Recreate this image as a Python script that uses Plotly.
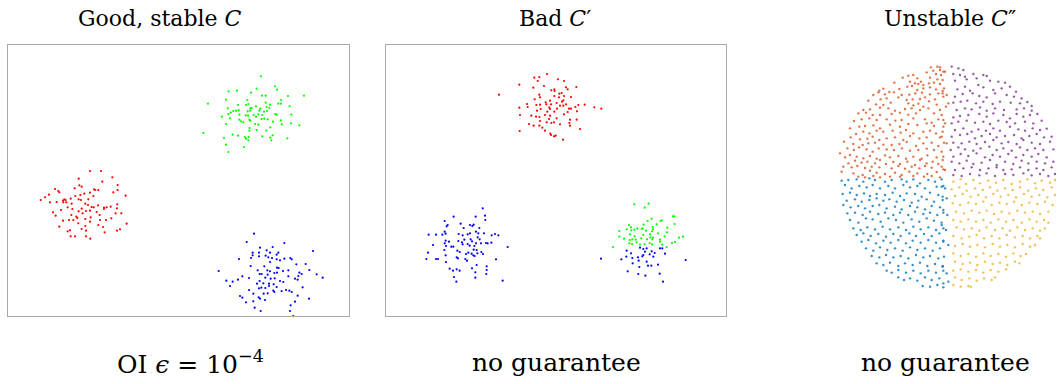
import plotly.graph_objects as go

# ---------------- panel 1: good, stable clustering (three well separated blobs)
p1_red_x = [246,279,212,313,283,329,214,221,200,329,141,151,154,258,262,271,316,229,246,353,123,111,217,202,256,188,169,173,165,212,219,241,98,126,146,166,175,191,270,232,240,328,251,257,308,288,288,296,327,179,193,221,159,212,234,246,135,224,266,323,340,190,143,205,208,248,275,232,310,276,294,183,165,196,246,356,211,271,154,232,285,221,336,186,179,327,234,290,188,201,234,247]
p1_red_y = [435,435,412,416,403,393,392,388,383,378,381,375,371,380,378,378,371,367,370,361,364,356,363,360,360,352,350,348,346,350,348,350,348,341,342,341,341,337,332,337,333,335,327,326,328,325,321,326,323,326,321,322,318,314,315,316,311,308,312,308,308,303,301,298,294,296,303,291,293,288,288,288,286,288,283,277,278,273,268,270,267,261,260,257,254,256,256,251,239,239,239,232]

p1_green_x = [759,801,807,746,662,687,729,888,840,762,773,654,819,600,718,773,811,819,786,744,776,690,714,721,845,659,727,731,757,784,676,684,692,668,661,719,726,754,768,777,802,806,850,694,713,720,737,751,763,642,666,694,699,724,727,744,761,769,779,795,819,706,654,741,751,821,849,874,725,787,724,746,775,586,794,674,690,711,714,722,763,787,648,721,838,790,654,708,661]
p1_green_y = [719,689,679,682,674,676,670,661,660,661,661,649,648,637,648,640,637,637,634,629,627,633,633,636,629,623,623,624,622,624,615,616,617,610,606,614,616,616,613,615,606,604,604,604,602,601,603,605,603,598,593,589,584,589,586,598,591,592,590,583,587,581,576,576,574,575,578,572,564,566,556,558,556,549,542,544,541,537,532,537,539,535,534,527,533,527,514,507,492]

p1_blue_x = [738,716,794,829,756,776,786,734,753,811,734,753,773,806,915,693,729,781,792,806,829,847,851,786,816,728,769,807,812,865,893,632,749,778,786,807,825,841,904,755,761,779,799,874,881,871,926,944,703,723,772,800,841,861,869,655,674,690,755,788,816,826,666,747,766,783,783,797,806,760,772,723,753,834,844,884,821,796,799,767,736,779,851,869,696,703,752,756,771,903,714,736,861,848,740,846,758,856]
p1_blue_y = [247,222,207,219,205,197,190,190,190,190,182,179,181,184,195,171,174,176,174,170,172,174,170,162,167,150,149,145,144,155,156,135,137,137,134,130,135,137,138,126,126,124,129,130,126,120,125,115,119,114,115,113,119,112,109,106,103,109,105,112,105,102,90,97,98,97,90,95,87,85,84,78,83,78,76,86,75,76,72,67,67,68,72,61,60,55,56,52,48,52,41,44,43,32,25,15,15,0]

# ---------------- panel 2: bad clustering (one blob split across two labels)
p2_red_x = [483,445,460,455,516,534,400,474,442,540,545,571,496,505,506,339,460,462,520,527,534,505,519,555,446,492,479,532,528,512,423,451,462,481,495,522,532,540,568,577,596,625,646,400,425,464,490,492,513,549,555,453,484,505,545,573,402,436,450,460,477,492,534,489,512,552,572,462,482,496,504,550,429,443,460,469,522,552,582,401,477,493,495,504,509,531]
p2_red_y = [726,715,717,705,710,705,694,690,685,686,680,687,677,680,675,664,664,656,667,669,660,660,656,657,650,646,641,647,643,639,636,633,634,635,635,631,631,635,627,633,634,626,622,625,627,621,625,621,622,622,622,616,613,613,612,614,603,601,598,597,603,601,605,591,593,589,589,585,581,579,581,579,576,571,571,565,575,571,561,555,556,547,543,539,541,529]

p2_blue_x = [290,297,203,269,298,176,185,182,224,252,259,263,233,280,128,150,169,179,176,218,230,245,252,270,277,294,317,327,337,179,189,217,228,235,254,258,275,281,285,305,300,316,141,176,180,196,230,245,251,270,265,365,175,202,214,221,247,263,272,274,286,126,240,257,262,266,291,179,212,216,150,156,121,238,243,330,180,272,302,191,201,212,221,258,268,302,301,204,268,211,350,
              762,772,782,777,797,822,829,722,735,791,806,802,837,645,706,721,739,756,769,772,899,758,782,740,786,796,816,760,725,757,778,821,831]
p2_blue_y = [323,301,298,298,288,285,273,269,277,273,270,274,264,264,244,244,244,247,253,246,242,245,248,253,248,248,242,246,242,226,223,225,221,229,230,224,236,230,218,218,219,220,213,218,210,208,215,216,211,218,210,207,198,208,196,192,190,199,198,188,192,190,186,187,182,180,186,182,176,173,171,171,171,171,166,170,162,153,149,142,136,140,136,143,131,138,126,117,115,103,106,
              205,201,203,193,194,203,203,196,188,185,189,178,187,172,170,178,174,176,179,183,168,166,163,158,151,151,154,147,134,126,121,127,103]

p2_green_x = [745,788,776,797,785,824,828,861,865,729,773,800,812,801,844,866,700,722,735,736,745,754,767,770,780,798,816,843,732,746,772,792,793,801,836,879,891,700,714,731,739,749,766,783,799,822,822,867,858,730,738,752,762,776,791,798,829,681,842]
p2_green_y = [335,337,325,292,285,285,287,299,299,273,274,267,275,260,265,276,255,260,266,257,259,262,261,263,256,254,248,251,245,239,243,245,236,235,239,235,238,238,232,228,230,229,233,230,230,229,223,222,219,218,216,221,214,215,219,215,214,207,207]

# ---------------- panel 3: unstable clustering of a uniform disc into four quadrants
disc_orange_x = [303,322,330,290,310,318,333,340,218,235,250,262,300,322,193,240,255,265,273,280,297,312,330,148,160,208,232,246,262,280,300,318,338,130,145,165,178,192,215,238,256,276,300,325,115,152,170,205,230,248,270,285,297,315,340,138,160,182,235,250,265,280,320,100,120,150,175,195,225,245,270,295,330,85,108,128,150,185,210,235,258,312,335,72,95,118,140,170,196,215,250,285,305,325,60,88,105,130,150,180,210,235,262,290,312,340,78,100,118,140,160,188,212,228,250,280,300,318,338,62,90,112,128,148,170,195,220,240,268,290,330,42,70,98,115,135,160,185,208,230,258,280,305,325,342,52,72,87,110,128,146,170,192,216,240,265,290,312,335,30,45,60,80,100,120,140,165,180,205,228,250,275,292,320,338,55,75,95,112,135,150,168,190,210,232,255,270,290,308,325,40,65,82,105,125,148,185,205,225,245,268,285,305,340,35,70,98,120,140,165,195,215,238,262,292,320,85,105,130,150,180,210,250,282,305,330,
                 330,345,338,342,338,350,355,348,340,345,335,350,340,335,345]
disc_orange_y = [698,700,698,683,688,678,675,685,667,673,675,665,667,662,652,655,650,648,655,645,650,652,648,628,634,633,640,642,630,635,638,632,627,615,623,617,624,623,615,616,620,622,617,620,598,602,605,608,600,602,603,608,596,602,610,587,585,592,590,584,589,580,586,570,572,577,575,568,573,575,570,575,570,560,562,555,555,558,562,556,560,560,555,537,542,545,540,542,538,540,545,542,532,542,515,520,522,524,515,526,520,528,525,530,522,520,498,505,500,508,505,508,502,510,500,505,508,500,505,488,482,484,490,480,485,488,480,492,485,488,488,475,468,465,470,472,466,465,468,474,462,470,472,462,472,455,450,458,452,445,455,452,450,455,448,450,454,450,445,440,428,435,430,425,432,424,434,428,432,424,430,424,434,428,420,410,418,412,415,410,420,408,414,408,415,405,420,410,415,408,400,398,402,396,400,398,395,402,394,400,395,402,397,392,385,380,375,388,382,378,382,375,385,380,378,384,370,368,372,368,370,370,372,370,372,368,
                 690,685,660,635,620,615,590,580,540,530,490,470,430,400,390]

disc_purple_x = [365,385,400,370,390,405,430,460,470,375,410,440,480,505,525,382,405,420,445,460,490,515,540,558,375,398,428,448,470,495,530,552,575,370,392,412,438,460,488,510,542,570,592,605,380,405,425,450,470,495,522,560,582,605,370,390,415,448,470,490,520,540,560,580,600,622,365,385,410,435,460,480,505,530,555,585,610,635,375,400,425,445,468,490,510,540,565,585,608,630,650,365,390,412,435,455,480,500,525,552,575,598,620,642,665,370,395,418,440,465,490,515,535,560,580,605,630,660,362,385,405,430,452,478,500,520,545,570,592,615,640,670,370,392,415,440,465,488,510,535,558,580,605,625,650,365,388,410,430,455,480,500,525,550,575,595,620,645,670,375,400,425,450,475,500,520,545,570,595,620,640,665,370,395,420,448,470,495,525,550,580,605,630,655,675]
disc_purple_y = [700,695,690,678,675,670,678,675,672,658,662,665,658,655,652,632,640,628,645,638,630,635,640,625,610,618,620,612,608,620,615,610,605,592,595,598,590,595,588,595,592,590,594,582,570,575,572,578,568,575,570,572,575,568,548,552,555,558,550,560,555,545,558,550,555,558,530,535,538,532,535,528,538,534,530,535,530,538,510,515,505,512,508,515,508,520,512,508,515,510,514,490,495,498,485,492,498,488,492,495,485,492,498,488,490,472,470,475,468,474,480,470,474,468,480,472,468,475,450,458,452,448,455,460,450,455,448,458,450,455,450,452,430,438,432,440,428,435,430,438,428,435,430,438,428,415,410,418,408,412,420,405,415,408,418,410,415,410,415,390,395,398,390,395,398,390,392,398,390,395,390,398,375,372,378,374,380,372,378,375,380,374,378,372,378]

disc_blue_x = [35,55,80,100,118,135,165,185,215,230,250,270,295,315,335,45,65,88,110,128,150,175,195,220,240,262,285,320,340,38,60,80,102,120,140,165,188,210,230,255,275,300,325,50,75,95,118,140,160,178,200,222,245,265,290,312,338,40,62,85,105,128,148,170,195,215,240,262,285,305,330,52,75,98,120,145,165,190,210,235,255,280,300,322,340,60,85,108,128,152,175,198,220,245,268,290,312,335,70,92,112,135,158,180,205,228,250,272,295,318,340,80,100,122,145,168,190,212,238,258,282,305,328,95,115,138,160,182,205,228,248,272,295,318,340,108,130,150,172,195,218,240,262,285,308,330,125,148,168,190,212,235,258,280,300,325,140,160,180,205,225,248,270,292,315,338,170,185,205,228,250,272,295,318,340,205,222,240,262,285,305,328,278,300,322,340,
               335,345,338,350,340,352,335,348,340,355,342,338,350,340,355]
disc_blue_y = [358,360,362,355,365,360,355,360,362,355,362,350,360,355,362,345,335,342,338,345,335,342,335,345,338,342,335,340,342,318,322,315,320,312,318,315,322,312,320,318,310,322,315,298,302,295,300,305,298,302,295,300,292,298,302,295,300,285,278,282,275,282,285,275,280,272,282,278,272,282,278,260,262,255,265,258,262,255,262,255,265,258,262,255,262,240,232,245,242,235,245,240,232,242,235,245,238,232,215,210,218,212,220,212,218,210,220,212,218,210,215,195,200,192,198,190,198,192,200,192,198,192,200,175,180,170,178,172,180,170,178,172,180,172,178,155,148,158,150,155,148,158,150,155,148,155,132,128,135,128,132,125,135,128,132,125,110,105,112,102,110,105,112,102,108,102,88,82,90,82,88,80,88,82,88,68,60,65,58,68,60,65,42,40,45,38,
               340,335,310,305,270,255,225,210,175,165,130,100,80,50,55]

disc_yellow_x = [370,392,408,430,450,475,498,520,545,570,592,615,635,660,675,365,388,410,435,458,480,502,525,548,570,595,618,640,665,375,398,422,445,468,490,512,535,558,582,605,628,652,675,368,390,415,438,460,485,508,530,552,575,598,622,645,668,378,402,425,448,470,492,515,538,562,585,608,630,655,370,392,415,438,460,482,505,528,550,575,598,620,642,655,380,402,425,448,470,495,518,540,562,585,608,630,645,370,395,418,440,462,485,508,530,555,578,600,622,630,375,398,420,442,465,488,510,532,555,578,600,615,370,392,415,438,460,482,505,528,550,572,588,375,398,420,442,465,488,510,532,555,568,370,392,415,438,460,482,505,528,375,395,418,440,462,485,495,370,392,415,422]
disc_yellow_y = [355,362,348,360,350,358,352,360,348,355,362,350,358,352,360,332,338,328,335,330,338,328,335,330,338,328,335,330,338,312,318,310,315,308,318,310,315,308,318,310,315,308,315,290,285,292,288,295,285,292,288,295,285,292,288,295,285,265,260,268,262,268,258,265,260,268,262,265,258,265,240,235,242,235,240,232,242,235,240,232,242,235,240,232,218,212,215,208,218,210,215,208,218,210,215,208,215,192,185,190,195,185,192,185,195,188,192,185,192,185,162,168,160,165,158,168,160,165,158,168,160,165,140,132,138,130,140,132,138,130,140,132,138,115,108,112,105,115,108,112,105,115,110,88,92,85,90,82,90,85,92,68,60,65,58,65,60,68,45,40,42,40]

# ---------------- labels
titles = ["Good, stable <i>C</i>", "Bad <i>C</i>′", "Unstable <i>C</i>″"]
title_x = [160, 555, 950]
captions = ["OI <i>ϵ</i> = 10<sup>−4</sup>", "no guarantee", "no guarantee"]
caption_x = [190, 556, 945]

W, H = 1058, 384
SERIF = "DejaVu Serif"

fig = go.Figure()


def dots(x, y, color, axis, size=2.2, opacity=1.0):
    fig.add_trace(go.Scatter(
        x=x, y=y, mode="markers", xaxis=axis[0], yaxis=axis[1],
        marker=dict(color=color, size=size, opacity=opacity, line=dict(width=0)),
        hoverinfo="skip", showlegend=False))


dots(p1_red_x, p1_red_y, "#ff0000", ("x", "y"))
dots(p1_green_x, p1_green_y, "#00ff00", ("x", "y"))
dots(p1_blue_x, p1_blue_y, "#0000ff", ("x", "y"))

dots(p2_red_x, p2_red_y, "#ff0000", ("x2", "y2"))
dots(p2_green_x, p2_green_y, "#00ff00", ("x2", "y2"))
dots(p2_blue_x, p2_blue_y, "#0000ff", ("x2", "y2"))

dots(disc_orange_x, disc_orange_y, "#D95319", ("x3", "y3"), size=2.4, opacity=0.8)
dots(disc_purple_x, disc_purple_y, "#7E2F8E", ("x3", "y3"), size=2.4, opacity=0.8)
dots(disc_blue_x, disc_blue_y, "#0072BD", ("x3", "y3"), size=2.4, opacity=0.8)
dots(disc_yellow_x, disc_yellow_y, "#EDB120", ("x3", "y3"), size=2.4, opacity=0.8)

framed = dict(showline=True, mirror=True, linecolor="#aaaaaa", linewidth=1,
              showgrid=False, zeroline=False, showticklabels=False, ticks="")
bare = dict(showline=False, showgrid=False, zeroline=False, showticklabels=False, ticks="")

ydom = [1 - 316 / H, 1 - 45 / H]
fig.update_layout(
    width=W, height=H, margin=dict(l=0, r=0, t=0, b=0),
    paper_bgcolor="white", plot_bgcolor="rgba(0,0,0,0)",
    xaxis=dict(domain=[8 / W, 349 / W], range=[0, 1023], anchor="y", **framed),
    yaxis=dict(domain=ydom, range=[0, 813], anchor="x", **framed),
    xaxis2=dict(domain=[386 / W, 726 / W], range=[0, 1020], anchor="y2", **framed),
    yaxis2=dict(domain=ydom, range=[0, 813], anchor="x2", **framed),
    xaxis3=dict(domain=[836 / W, 1058 / W], range=[18, 684], anchor="y3", **bare),
    yaxis3=dict(domain=[1 - 290 / H, 1 - 65 / H], range=[30, 705], anchor="x3", **bare),
)

for t, cx in zip(titles, title_x):
    fig.add_annotation(x=cx / W, y=1 - 18 / H, xref="paper", yref="paper",
                       text=t, showarrow=False, xanchor="center", yanchor="middle",
                       font=dict(family=SERIF, size=22, color="black"))
for t, cx in zip(captions, caption_x):
    fig.add_annotation(x=cx / W, y=1 - 362 / H, xref="paper", yref="paper",
                       text=t, showarrow=False, xanchor="center", yanchor="middle",
                       font=dict(family=SERIF, size=25, color="black"))

fig.write_html("out.html")
